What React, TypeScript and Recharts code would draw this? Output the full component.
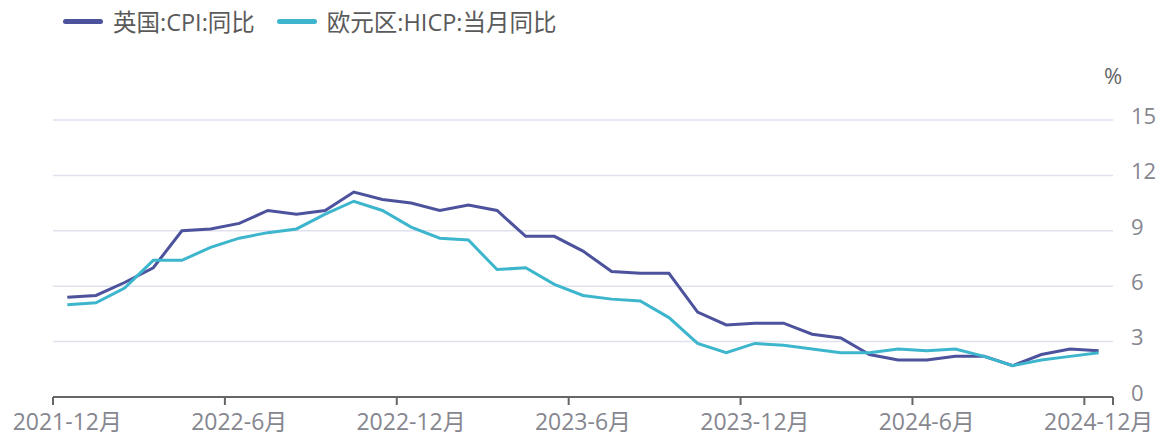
import React from "react";
import { LineChart, Line, XAxis, YAxis, CartesianGrid } from "recharts";

const months = [
  "2021-12月",
  "2022-1月", "2022-2月", "2022-3月", "2022-4月", "2022-5月", "2022-6月",
  "2022-7月", "2022-8月", "2022-9月", "2022-10月", "2022-11月", "2022-12月",
  "2023-1月", "2023-2月", "2023-3月", "2023-4月", "2023-5月", "2023-6月",
  "2023-7月", "2023-8月", "2023-9月", "2023-10月", "2023-11月", "2023-12月",
  "2024-1月", "2024-2月", "2024-3月", "2024-4月", "2024-5月", "2024-6月",
  "2024-7月", "2024-8月", "2024-9月", "2024-10月", "2024-11月", "2024-12月",
];

// 英国:CPI:同比
const ukCpi = [
  5.4,
  5.5, 6.2, 7.0, 9.0, 9.1, 9.4, 10.1, 9.9, 10.1, 11.1, 10.7, 10.5,
  10.1, 10.4, 10.1, 8.7, 8.7, 7.9, 6.8, 6.7, 6.7, 4.6, 3.9, 4.0,
  4.0, 3.4, 3.2, 2.3, 2.0, 2.0, 2.2, 2.2, 1.7, 2.3, 2.6, 2.5,
];

// 欧元区:HICP:当月同比
const euroHicp = [
  5.0,
  5.1, 5.9, 7.4, 7.4, 8.1, 8.6, 8.9, 9.1, 9.9, 10.6, 10.1, 9.2,
  8.6, 8.5, 6.9, 7.0, 6.1, 5.5, 5.3, 5.2, 4.3, 2.9, 2.4, 2.9,
  2.8, 2.6, 2.4, 2.4, 2.6, 2.5, 2.6, 2.2, 1.7, 2.0, 2.2, 2.4,
];

const xTicks = [0, 6, 12, 18, 24, 30, 36, 37];
const yTicks = [0, 3, 6, 9, 12, 15];

const seriesNames = ["英国:CPI:同比", "欧元区:HICP:当月同比"];
const UK = "#4D529D";
const EURO = "#3DB6CD";
const FONT = "'Open Sans', 'Noto Sans CJK SC', sans-serif";

const data = months.map((m, i) => ({
  x: i + 0.5,
  month: m,
  uk: ukCpi[i],
  euro: euroHicp[i],
}));

const PLOT_W = 1060;
const HALF_BAND = PLOT_W / months.length / 2;

function MonthTick(props: any) {
  const { x, y, payload } = props;
  const label = months[payload.value];
  if (!label) return <g />;
  return (
    <text
      x={x + HALF_BAND}
      y={y}
      dy={23}
      textAnchor="middle"
      fill="#86868f"
      fontSize={23}
      fontFamily={FONT}
    >
      {label}
    </text>
  );
}

function Legend() {
  const colors = [UK, EURO];
  return (
    <div
      style={{
        position: "absolute",
        left: 63,
        top: 4,
        display: "flex",
        alignItems: "center",
        fontFamily: FONT,
        fontSize: 23.5,
        color: "#5a5a5a",
      }}
    >
      {seriesNames.map((name, i) => (
        <div key={name} style={{ display: "flex", alignItems: "center", marginRight: 22 }}>
          <span
            style={{
              display: "inline-block",
              width: 40,
              height: 5,
              borderRadius: 3,
              background: colors[i],
              marginRight: 10,
            }}
          />
          <span>{name}</span>
        </div>
      ))}
    </div>
  );
}

export default function App() {
  return (
    <div style={{ position: "absolute", left: 0, top: 0, width: 1160, height: 437, background: "#fff" }}>
      <Legend />
      <div
        style={{
          position: "absolute",
          left: 1104,
          top: 60,
          fontFamily: FONT,
          fontSize: 22,
          color: "#666",
        }}
      >
        %
      </div>
      <LineChart
        width={1160}
        height={437}
        data={data}
        margin={{ top: 120, right: 0, bottom: 0, left: 53 }}
      >
        <CartesianGrid vertical={false} stroke="#dfe2ee" strokeWidth={1.5} />
        <XAxis
          dataKey="x"
          type="number"
          domain={[0, months.length]}
          ticks={xTicks}
          interval={0}
          height={40}
          tickSize={8}
          tickMargin={2}
          stroke="#666"
          strokeWidth={2}
          tick={<MonthTick />}
        />
        <YAxis
          orientation="right"
          domain={[0, 15]}
          ticks={yTicks}
          width={47}
          axisLine={false}
          tickLine={false}
          tickSize={0}
          tickMargin={18}
          tick={{ fill: "#86868f", fontSize: 22, fontFamily: FONT, dy: -4 }}
        />
        <Line
          type="linear"
          dataKey="uk"
          name={seriesNames[0]}
          stroke={UK}
          strokeWidth={3}
          dot={false}
          isAnimationActive={false}
        />
        <Line
          type="linear"
          dataKey="euro"
          name={seriesNames[1]}
          stroke={EURO}
          strokeWidth={3}
          dot={false}
          isAnimationActive={false}
        />
      </LineChart>
    </div>
  );
}
